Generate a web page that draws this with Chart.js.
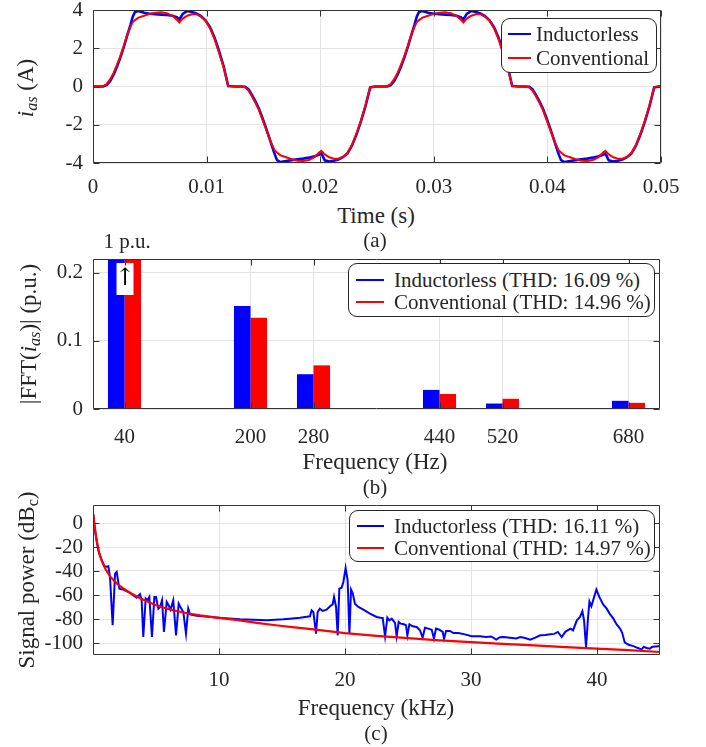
<!DOCTYPE html>
<html>
<head>
<meta charset="utf-8">
<script src="https://cdn.jsdelivr.net/npm/chart.js@4.4.1/dist/chart.umd.min.js"></script>
<style>
    body { margin: 0; background: #fff; font-family: 'Liberation Serif', 'Tinos', 'DejaVu Serif', serif; }
    #wrap { position: relative; width: 706px; height: 747px; overflow: hidden; color: #262626; }
    #wrap div { font-family: 'Liberation Serif', 'Tinos', 'DejaVu Serif', serif; }
    canvas { position: absolute; left: 0; }
    .t { position: absolute; transform: translate(-50%, -50%); white-space: nowrap; line-height: 1; }
    .ylab { position: absolute; transform: translate(-50%, -50%) rotate(-90deg); white-space: nowrap;
            font-size: 23px; line-height: 1; }
    .ylab sub { font-size: 0.7em; vertical-align: -0.25em; }
    .legend { position: absolute; background: #fff; border: 1px solid #262626; border-radius: 9px;
              box-sizing: border-box; font-size: 21px; }
    .legend .ln { position: absolute; height: 2px; }
    .legend .tx { position: absolute; transform: translateY(-50%); white-space: nowrap; line-height: 1; }
</style>
</head>
<body>
<div id="wrap">
    <canvas id="chartA" width="706" height="200" style="top:0"></canvas>
    <canvas id="chartB" width="706" height="220" style="top:230px"></canvas>
    <canvas id="chartC" width="706" height="210" style="top:490px"></canvas>

    <div class="ylab" style="left:27px;top:88px"><i>i</i><sub><i>as</i></sub> (A)</div>
    <div class="t" style="left:376px;top:215px;font-size:23px">Time (s)</div>
    <div class="t" style="left:375px;top:240px;font-size:21px">(a)</div>

    <div class="t" style="left:127px;top:241px;font-size:21px">1 p.u.</div>
    <div class="ylab" style="left:30px;top:334px">|FFT(<i>i</i><sub><i>as</i></sub>)| (p.u.)</div>
    <div class="t" style="left:375px;top:461px;font-size:23px">Frequency (Hz)</div>
    <div class="t" style="left:375px;top:487px;font-size:21px">(b)</div>

    <div class="ylab" style="left:28px;top:580px">Signal power (dB<sub>c</sub>)</div>
    <div class="t" style="left:376px;top:707px;font-size:23px">Frequency (kHz)</div>
    <div class="t" style="left:376px;top:733px;font-size:21px">(c)</div>

    <div class="legend" style="left:501px;top:18px;width:156px;height:55px">
        <div class="ln" style="left:6px;top:14px;width:23px;background:#0000ff"></div>
        <div class="tx" style="left:34px;top:15px">Inductorless</div>
        <div class="ln" style="left:6px;top:38px;width:23px;background:#ff0000"></div>
        <div class="tx" style="left:34px;top:39px">Conventional</div>
    </div>
    <div class="legend" style="left:348px;top:263px;width:307px;height:54px">
        <div class="ln" style="left:7px;top:15px;width:28px;background:#0000ff"></div>
        <div class="tx" style="left:45px;top:16px">Inductorless (THD: 16.09 %)</div>
        <div class="ln" style="left:7px;top:37px;width:28px;background:#ff0000"></div>
        <div class="tx" style="left:45px;top:38px">Conventional (THD: 14.96 %)</div>
    </div>
    <div class="legend" style="left:349px;top:510px;width:306px;height:52px">
        <div class="ln" style="left:7px;top:14px;width:27px;background:#0000ff"></div>
        <div class="tx" style="left:44px;top:15px">Inductorless (THD: 16.11 %)</div>
        <div class="ln" style="left:7px;top:36px;width:27px;background:#ff0000"></div>
        <div class="tx" style="left:44px;top:37px">Conventional (THD: 14.97 %)</div>
    </div>
</div>

<script>
// (a) phase current, time in ms
const timeMs = [
    0, 0.5, 0.9, 1.2, 1.5, 1.8, 2.1, 2.4, 2.7, 3.0, 3.3, 3.5, 3.7, 4.0, 4.5, 5.0, 5.5, 6.0, 6.5, 7.0,
    7.4, 7.6, 7.9, 8.3, 8.7, 9.1, 9.5, 9.9, 10.3, 10.7, 11.1, 11.5, 11.9, 12.5, 13.0, 13.4, 13.7, 14.0, 14.3, 14.6,
    14.9, 15.2, 15.5, 15.8, 16.0, 16.2, 16.5, 17.0, 17.5, 18.0, 18.5, 19.0, 19.5, 19.9, 20.1, 20.4, 20.8, 21.2, 21.6, 22.0,
    22.4, 22.8, 23.2, 23.6, 24.0, 24.4, 24.8,
    25.0, 25.5, 25.9, 26.2, 26.5, 26.8, 27.1, 27.4, 27.7, 28.0, 28.3, 28.5, 28.7, 29.0, 29.5, 30.0, 30.5, 31.0, 31.5, 32.0,
    32.4, 32.6, 32.9, 33.3, 33.7, 34.1, 34.5, 34.9, 35.3, 35.7, 36.1, 36.5, 36.9, 37.5, 38.0, 38.4, 38.7, 39.0, 39.3, 39.6,
    39.9, 40.2, 40.5, 40.8, 41.0, 41.2, 41.5, 42.0, 42.5, 43.0, 43.5, 44.0, 44.5, 44.9, 45.1, 45.4, 45.8, 46.2, 46.6, 47.0,
    47.4, 47.8, 48.2, 48.6, 49.0, 49.4, 49.8, 50.0
];
const iasInductorless = [
    0, 0, 0, 0.07, 0.28, 0.6, 1.02, 1.5, 2.05, 2.65, 3.22, 3.65, 3.9, 3.95, 3.86, 3.8, 3.78, 3.76, 3.74, 3.7,
    3.62, 3.5, 3.8, 3.95, 3.9, 3.82, 3.68, 3.46, 3.1, 2.55, 1.85, 1.05, 0.03, 0, 0, -0.02, -0.15, -0.45, -0.78, -1.15,
    -1.62, -2.12, -2.65, -3.2, -3.55, -3.85, -3.95, -3.9, -3.85, -3.8, -3.77, -3.72, -3.65, -3.57, -3.5, -3.86, -3.92, -3.88, -3.82, -3.7,
    -3.5, -3.08, -2.5, -1.8, -1.0, -0.05, 0,
    0, 0, 0, 0.07, 0.28, 0.6, 1.02, 1.5, 2.05, 2.65, 3.22, 3.65, 3.9, 3.95, 3.86, 3.8, 3.78, 3.76, 3.74, 3.7,
    3.62, 3.5, 3.8, 3.95, 3.9, 3.82, 3.68, 3.46, 3.1, 2.55, 1.85, 1.05, 0.03, 0, 0, -0.02, -0.15, -0.45, -0.78, -1.15,
    -1.62, -2.12, -2.65, -3.2, -3.55, -3.85, -3.95, -3.9, -3.85, -3.8, -3.77, -3.72, -3.65, -3.57, -3.5, -3.86, -3.92, -3.88, -3.82, -3.7,
    -3.5, -3.08, -2.5, -1.8, -1.0, -0.05, 0, 0
];
const iasConventional = [
    0, 0, 0.02, 0.12, 0.37, 0.7, 1.12, 1.58, 2.1, 2.68, 3.12, 3.37, 3.47, 3.6, 3.7, 3.8, 3.86, 3.88, 3.83, 3.7,
    3.48, 3.35, 3.55, 3.7, 3.78, 3.78, 3.66, 3.45, 3.05, 2.48, 1.75, 1.0, 0.03, 0, 0, -0.04, -0.22, -0.52, -0.85, -1.22,
    -1.7, -2.18, -2.67, -3.1, -3.35, -3.45, -3.6, -3.7, -3.8, -3.88, -3.9, -3.84, -3.7, -3.45, -3.36, -3.55, -3.7, -3.78, -3.78, -3.68,
    -3.48, -3.05, -2.45, -1.75, -0.95, -0.05, 0,
    0, 0, 0.02, 0.12, 0.37, 0.7, 1.12, 1.58, 2.1, 2.68, 3.12, 3.37, 3.47, 3.6, 3.7, 3.8, 3.86, 3.88, 3.83, 3.7,
    3.48, 3.35, 3.55, 3.7, 3.78, 3.78, 3.66, 3.45, 3.05, 2.48, 1.75, 1.0, 0.03, 0, 0, -0.04, -0.22, -0.52, -0.85, -1.22,
    -1.7, -2.18, -2.67, -3.1, -3.35, -3.45, -3.6, -3.7, -3.8, -3.88, -3.9, -3.84, -3.7, -3.45, -3.36, -3.55, -3.7, -3.78, -3.78, -3.68,
    -3.48, -3.05, -2.45, -1.75, -0.95, -0.05, 0, 0
];
const timeTicks = [0, 0.01, 0.02, 0.03, 0.04, 0.05];
const iasTicks = [-4, -2, 0, 2, 4];

// (b) harmonic amplitudes
const harmonicHz = [40, 200, 280, 440, 520, 680];
const fftInductorless = [1, 0.151, 0.051, 0.028, 0.008, 0.012];
const fftConventional = [1, 0.134, 0.064, 0.022, 0.015, 0.009];
const fftTicks = [0, 0.1, 0.2];

// (c) power spectrum
const spInductorlessKhz = [
    0.02, 0.1, 0.2, 0.42, 0.69, 0.95, 1.22, 1.35, 1.56, 1.75, 1.88, 2.09, 2.4, 2.94, 3.46, 3.73, 3.86, 3.99, 4.18, 4.31,
    4.47, 4.68, 4.87, 5.0, 5.19, 5.32, 5.48, 5.63, 5.85, 6.0, 6.16, 6.37, 6.59, 6.8, 6.96, 7.17, 7.38, 7.56, 7.7, 8.22,
    9.95, 11.67, 13.8, 15.1, 15.63, 16.43, 17.22, 17.35, 17.49, 17.7, 17.83, 18.0, 18.23, 18.54, 18.81, 19.02, 19.13, 19.29, 19.42, 19.55,
    19.73, 19.87, 20.05, 20.21, 20.35, 20.48, 20.61, 20.79, 21.06, 21.46, 21.98, 22.51, 22.83, 22.99, 23.18, 23.36, 23.52, 23.71, 23.97, 24.1,
    24.26, 24.42, 24.68, 24.84, 24.95, 25.11, 25.37, 25.69, 25.95, 26.16, 26.35, 26.61, 26.88, 27.06, 27.22, 27.49, 27.75, 27.86, 28.02, 28.33,
    28.6, 29.0, 29.52, 30.05, 30.71, 31.2, 31.6, 32.0, 32.3, 32.6, 33.1, 33.6, 33.9, 34.3, 34.7, 35.1, 35.5, 35.9, 36.3, 36.6,
    36.9, 37.2, 37.5, 37.9, 38.1, 38.4, 38.65, 38.84, 38.97, 39.13, 39.28, 39.4, 39.55, 39.95, 40.2, 40.5, 40.77, 41.0, 41.3, 41.56,
    41.83, 42.0, 42.2, 42.5, 42.9, 43.2, 43.55, 43.7, 43.95, 44.2, 44.35, 44.6, 44.9, 45.0
];
const spInductorlessDb = [
    7.2, -0.5, -9, -22.8, -31, -36.6, -36, -45, -85.2, -42.2, -40.8, -54.7, -55.5, -58.3, -62.2, -59.4, -64.4, -95, -63, -64.4,
    -61.7, -95, -61.7, -61.7, -71.4, -70, -64.4, -90.8, -65.8, -68.6, -72.2, -64.4, -93.6, -67.2, -70.5, -74.2, -92.2, -71.4, -76.1, -77.2,
    -78.9, -80.3, -81.1, -80.3, -79.7, -78.9, -77.8, -72.8, -74.2, -92.2, -74.2, -71.4, -73.3, -72.2, -69.4, -67.8, -61.6, -70, -93.6, -54.7,
    -53.9, -49.1, -37.5, -47.7, -92.2, -55.5, -58.3, -67.2, -70, -72.2, -75.5, -78.3, -78.9, -79.1, -94.4, -78.9, -81.1, -79.7, -83.3, -94.4,
    -82.5, -83.9, -84.4, -85.2, -93.6, -84.4, -86.1, -86.7, -89.4, -95.5, -87.2, -88, -88.9, -96.4, -88, -88.9, -90.8, -96.4, -90, -90,
    -91.7, -91.7, -92.8, -94.4, -94.4, -95, -94.6, -97.2, -95.2, -95, -95.6, -96.2, -95, -95.8, -97.2, -95.5, -93.6, -93.4, -92.8, -92.4,
    -90.8, -95, -90.5, -88, -89.5, -81.1, -78.3, -73.5, -81, -103.5, -80, -65.5, -69.4, -55.5, -62, -68, -71.4, -75.5, -79.7, -84.5,
    -88, -91.5, -99.5, -101.5, -102.6, -104, -105.3, -103.2, -104.2, -104.8, -103.3, -103, -102.8, -102.8
];
const spConventionalKhz = [
    0.02, 0.1, 0.2, 0.3, 0.5, 0.75, 1.0, 1.35, 1.9, 2.4, 3.0, 3.7, 4.4, 5.0, 5.7, 6.4, 7.0, 7.7, 8.5, 10,
    11.5, 13, 14.5, 16, 17.5, 20, 22.5, 25, 27.5, 30, 32.5, 35, 37.5, 40, 42.5, 45
];
const spConventionalDb = [
    7.5, 0, -8, -15, -25.5, -33, -38.5, -44.5, -50.5, -54.5, -58.5, -62.5, -65.8, -68.5, -70.8, -72.8, -74.2, -75.6, -77, -79,
    -81, -83.2, -85.2, -87, -88.6, -91.7, -94, -96, -97.8, -99.3, -100.7, -102, -103.4, -104.7, -106, -107.5
];
const khzTicks = [10, 20, 30, 40];
const dbTicks = [-100, -80, -60, -40, -20, 0];

const BLUE = '#0000ff';
const RED = '#ff0000';
const GRID = '#e3e3e3';
const AXIS = '#333333';

Chart.defaults.font.family = "'Liberation Serif', 'Tinos', 'DejaVu Serif', serif";
Chart.defaults.font.size = 21;
Chart.defaults.color = '#262626';
Chart.defaults.animation = false;
Chart.defaults.responsive = false;
Chart.defaults.devicePixelRatio = 1;
Chart.defaults.plugins.legend.display = false;
Chart.defaults.plugins.tooltip.enabled = false;
Chart.defaults.elements.point.radius = 0;

function pts(xs, ys, k) {
    return xs.map((x, i) => ({ x: x * (k || 1), y: ys[i] }));
}

function xAxis(min, max, tickVals, height, pad) {
    return {
        type: 'linear', min: min, max: max, offset: false,
        grid: { color: GRID, drawTicks: false, offset: false },
        border: { display: false },
        ticks: { padding: pad, maxRotation: 0, autoSkip: false },
        afterBuildTicks: function (s) { s.ticks = tickVals.map(v => ({ value: v })); },
        afterFit: function (s) { s.height = height; s.paddingLeft = 0; s.paddingRight = 0; }
    };
}

function yAxis(min, max, tickVals) {
    return {
        type: 'linear', min: min, max: max,
        grid: { color: GRID, drawTicks: false },
        border: { display: false },
        ticks: { padding: 10, autoSkip: false },
        afterBuildTicks: function (s) { s.ticks = tickVals.map(v => ({ value: v })); },
        afterFit: function (s) { s.width = 93; s.paddingTop = 0; s.paddingBottom = 0; }
    };
}

// box round the plot with inward tick marks
const frame = {
    id: 'frame',
    afterDatasetsDraw(chart) {
        const { ctx, chartArea: a, scales } = chart;
        const L = Math.round(a.left) + 0.5, R = Math.round(a.right) - 0.5;
        const T = Math.round(a.top) + 0.5, B = Math.round(a.bottom) - 0.5;
        ctx.save();
        ctx.strokeStyle = AXIS;
        ctx.lineWidth = 1;
        ctx.beginPath();
        scales.x.ticks.forEach((t, i) => {
            const px = Math.round(scales.x.getPixelForTick(i)) + 0.5;
            ctx.moveTo(px, B); ctx.lineTo(px, B - 6);
            ctx.moveTo(px, T); ctx.lineTo(px, T + 6);
        });
        scales.y.ticks.forEach((t, i) => {
            const py = Math.round(scales.y.getPixelForTick(i)) + 0.5;
            ctx.moveTo(L, py); ctx.lineTo(L + 6, py);
            ctx.moveTo(R, py); ctx.lineTo(R - 6, py);
        });
        ctx.rect(L, T, R - L, B - T);
        ctx.stroke();
        ctx.restore();
    }
};

// white box with arrow on the clipped fundamental
const arrowBox = {
    id: 'arrowBox',
    afterDatasetsDraw(chart) {
        const { ctx, chartArea: a, scales: { x } } = chart;
        const cx = x.getPixelForValue(harmonicHz[0]);
        ctx.save();
        ctx.fillStyle = '#fff';
        ctx.fillRect(cx - 8, a.top + 4, 17, 32);
        ctx.fillStyle = '#000';
        ctx.font = "24px 'DejaVu Serif'";
        ctx.textAlign = 'center';
        ctx.textBaseline = 'middle';
        ctx.fillText('\u2191', cx + 0.5, a.top + 20);
        ctx.restore();
    }
};

new Chart(document.getElementById('chartA'), {
    type: 'line',
    data: {
        datasets: [
            { label: 'Inductorless', data: pts(timeMs, iasInductorless, 0.001), borderColor: BLUE, borderWidth: 2.6, order: 1 },
            { label: 'Conventional', data: pts(timeMs, iasConventional, 0.001), borderColor: RED, borderWidth: 2, order: 0 }
        ]
    },
    options: {
        layout: { padding: { top: 10, right: 45, left: 0, bottom: 0 } },
        scales: { x: xAxis(0, 0.05, timeTicks, 37, 12), y: yAxis(-4, 4, iasTicks) }
    },
    plugins: [frame]
});

new Chart(document.getElementById('chartB'), {
    type: 'bar',
    data: {
        datasets: [
            { label: 'Inductorless (THD: 16.09 %)', data: pts(harmonicHz, fftInductorless), backgroundColor: BLUE },
            { label: 'Conventional (THD: 14.96 %)', data: pts(harmonicHz, fftConventional), backgroundColor: RED }
        ]
    },
    options: {
        layout: { padding: { top: 29, right: 46, left: 0, bottom: 0 } },
        datasets: { bar: { categoryPercentage: 0.525, barPercentage: 1 } },
        scales: { x: xAxis(0, 720, harmonicHz, 41, 16), y: yAxis(0, 0.22, fftTicks) }
    },
    plugins: [arrowBox, frame]
});

new Chart(document.getElementById('chartC'), {
    type: 'line',
    data: {
        datasets: [
            { label: 'Inductorless (THD: 16.11 %)', data: pts(spInductorlessKhz, spInductorlessDb), borderColor: BLUE, borderWidth: 2, order: 1 },
            { label: 'Conventional (THD: 14.97 %)', data: pts(spConventionalKhz, spConventionalDb), borderColor: RED, borderWidth: 2.2, order: 0 }
        ]
    },
    options: {
        layout: { padding: { top: 15, right: 46, left: 0, bottom: 0 } },
        scales: { x: xAxis(0, 45, khzTicks, 45, 13), y: yAxis(-110, 15, dbTicks) }
    },
    plugins: [frame]
});
</script>
</body>
</html>
